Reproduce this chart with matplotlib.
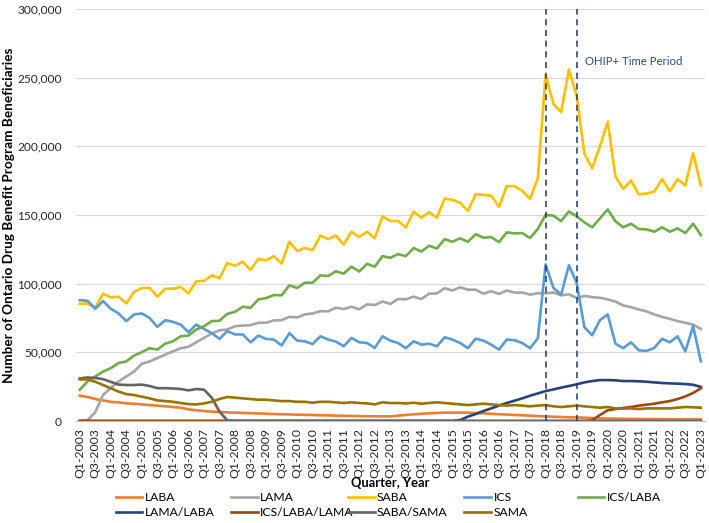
import numpy as np
import matplotlib.pyplot as plt
from matplotlib.ticker import FuncFormatter

plt.rcParams['font.family'] = ['Lato', 'DejaVu Sans']

# Quarters Q1-2003 .. Q1-2023
quarters = [f"Q{q}-{y}" for y in range(2003, 2024) for q in range(1, 5)][:81]

# Beneficiaries, thousands
laba = [18.5, 17.5, 16, 15, 14, 13.6, 12.8, 12.6, 12.1, 11.6, 11.2, 10.7, 10.2, 9.7, 8.5, 7.8,
        7.3, 6.8, 6.6, 6.3, 6.1, 5.9, 5.7, 5.5, 5.3, 5.1, 4.9, 4.8, 4.6, 4.5, 4.4, 4.2,
        4.1, 3.9, 3.8, 3.7, 3.6, 3.5, 3.4, 3.4, 3.4, 3.9, 4.4, 4.9, 5.3, 5.6, 5.8, 6.1,
        6.1, 6.1, 6.1, 5.8, 5.6, 5.3, 4.9, 4.7, 4.4, 4.2, 3.9, 3.6, 3.4, 3.1, 2.9, 2.7,
        2.6, 2.4, 2.2, 1.9, 1.8, 1.7, 1.6, 1.5, 1.5, 1.4, 1.4, 1.3, 1.3, 1.2, 1.2, 1.2, 1.2]
lama = [0, 0.5, 6.5, 19, 24, 28.8, 32.4, 36, 41.7, 43.4, 45.8, 48.3, 50.7, 53, 54, 57.3,
        60.5, 63.7, 66, 66.6, 69, 69.5, 69.8, 71.5, 71.5, 73.2, 73.4, 75.8, 75.4, 77.6, 78.3, 80,
        79.8, 82.5, 81.5, 83.2, 81.3, 84.9, 84.4, 87, 85.2, 88.8, 88.6, 90.5, 88.8, 92.7, 92.9, 96.6,
        95, 97.3, 95.6, 95.6, 92.7, 94.5, 92.5, 95, 93.5, 93.5, 92, 93, 93, 93.5, 91.5, 92.2,
        89.7, 91, 90.2, 89.7, 88.5, 87, 84.1, 82.9, 81.2, 79.8, 77.6, 75.8, 74.4, 72.7, 71.5, 70.2, 67]
saba = [85.4, 85.5, 82.5, 92.7, 90, 90.5, 85.6, 94, 96.8, 97, 90.5, 96.3, 96.3, 97.6, 93, 101.7,
        102, 106, 104, 115, 113, 116, 110, 118, 117, 120, 114.6, 130.5, 123.7, 126, 124.4, 135,
        132.4, 135, 128.5, 137.8, 134, 137.8, 133, 149, 145.6, 145.6, 141, 152.4, 148, 152, 148, 162,
        161, 158.8, 153, 165, 164.6, 164, 156, 171, 171, 167.6, 161.7, 176.8, 252, 231, 225, 256,
        237, 194.6, 184, 200, 217.8, 178, 169, 175, 165, 165.6, 167, 176, 167.3, 176, 171.5, 195, 171.5]
ics = [88, 87.5, 81.7, 87.3, 81.7, 78.3, 72.7, 77.6, 78.3, 75, 68.5, 73.4, 72.2, 70.2, 64.6, 70.2,
       67, 64, 59.8, 65.4, 63, 63, 57.3, 62.2, 59.8, 59.3, 55, 64, 58.5, 58, 56, 61.7,
       59.3, 57.8, 54.4, 60.5, 57.3, 56.8, 53.2, 61.7, 58.5, 56.8, 53, 58, 55.6, 56.3, 54.4, 61,
       59.3, 56.8, 53, 60, 58.5, 55.6, 52, 59.3, 58.8, 56.8, 53, 60.2, 114, 97, 92, 113.4,
       100.7, 68.3, 62.4, 73.4, 77.6, 56.3, 53, 57.3, 51.5, 51, 53.2, 59.8, 57.3, 61.7, 50.7, 69, 43.4]
ics_laba = [22.7, 28.8, 32.4, 36, 38.5, 42.2, 43.4, 47.6, 50.2, 53, 52, 56.3, 58, 61.7, 62.2, 66.6,
            69, 72.7, 73, 78, 79.5, 83.2, 82.4, 88.5, 89.5, 91.7, 91.5, 98.8, 96.8, 100.7, 100.7, 106,
            105.6, 109, 107.3, 112.4, 108.8, 114.4, 112.4, 120, 118.8, 121.5, 120, 125.9, 123.4, 127.6, 125.6, 132.4,
            130.5, 133, 130.5, 136, 133.4, 133.9, 130.2, 137.3, 136.6, 136.8, 133.2, 139.8, 150, 149.5, 145.6, 152.5,
            149, 144.6, 141, 147.5, 154, 145.4, 141, 143.6, 139.8, 139.5, 137.8, 141, 137.8, 140.2, 136.8, 143.6, 135.4]
lama_laba = [0] * 49 + [0.7, 3.2, 5.1, 7.3, 9.2, 11.2, 13.1, 14.8, 16.5, 18.4, 20.1, 21.8, 23, 24.3, 25.5,
                        26.7, 28.1, 29.1, 29.8, 29.8, 29.6, 29.1, 29.1, 28.9, 28.6, 28.1, 27.7, 27.4, 27.2, 26.9, 26.4, 24.8]
ics_laba_lama = [0] * 66 + [0.5, 4.4, 7.8, 8.7, 9.5, 10.2, 11.2, 11.9, 12.6, 13.6, 14.5, 16, 17.9, 20.4, 23.8]
saba_sama = [31, 31.7, 31.3, 30.5, 28.5, 26.5, 26.2, 26.2, 26.5, 25.5, 23.9, 23.9, 23.7, 23.3, 22.3, 23.3,
             22.8, 17, 6.8, 0.5] + [0] * 61
sama = [30.3, 30.3, 28.6, 26.2, 23.8, 21.4, 19.6, 18.9, 17.7, 16.5, 15, 14.5, 14, 13.1, 12.3, 12.1,
        12.8, 14, 16, 17.5, 17, 16.5, 16, 15.5, 15.5, 15, 14.5, 14.5, 14, 14, 13.3, 14,
        14, 13.6, 13.1, 13.6, 13.1, 12.8, 12.1, 13.6, 13.1, 13.1, 12.8, 13.3, 12.6, 13.1, 13.6, 13.1,
        12.6, 12.1, 11.6, 12.1, 12.6, 12.1, 11.6, 11.2, 11.6, 11.2, 10.7, 11.2, 11.6, 10.7, 10.2, 10.7,
        11.2, 10.7, 10.2, 9.7, 10.2, 9.2, 9, 9.2, 8.7, 9.2, 9.2, 9.2, 9.2, 9.7, 10.2, 10, 9.7]

series = [
    ("LABA", laba, "#ED7D31"),
    ("LAMA", lama, "#A5A5A5"),
    ("SABA", saba, "#FFC000"),
    ("ICS", ics, "#5B9BD5"),
    ("ICS/LABA", ics_laba, "#70AD47"),
    ("LAMA/LABA", lama_laba, "#264478"),
    ("ICS/LABA/LAMA", ics_laba_lama, "#9E480E"),
    ("SABA/SAMA", saba_sama, "#636363"),
    ("SAMA", sama, "#997300"),
]

ohip_start = "Q1-2018"
ohip_end = "Q1-2019"

fig = plt.figure(figsize=(7.09, 5.23), dpi=100)
ax = fig.add_axes([0.107, 0.195, 0.887, 0.788])

x = np.arange(len(quarters))
handles = []
for name, vals, col in series:
    h, = ax.plot(x, np.array(vals) * 1000, color=col, lw=1.9, label=name,
                 solid_joinstyle='round')
    handles.append(h)

for q in (ohip_start, ohip_end):
    ax.axvline(quarters.index(q), color="#1F3864", lw=1.1, ls=(0, (4, 3)), zorder=5)

ax.text(quarters.index(ohip_end) + 1.1, 262000, "OHIP+ Time Period",
        color="#2F4A7A", fontsize=8.2, va="center", ha="left")

ax.set_xlim(-0.5, len(quarters) - 0.5)
ax.set_ylim(0, 300000)
ax.set_yticks(np.arange(0, 300001, 50000))
ax.yaxis.set_major_formatter(FuncFormatter(lambda v, p: f"{int(v):,}"))
ax.set_xticks(x[::2])
ax.set_xticklabels(quarters[::2], rotation=90)
ax.tick_params(length=0, colors="#262626")
ax.tick_params(axis='y', pad=10, labelsize=8.6)
ax.tick_params(axis='x', pad=5, labelsize=8.8)
ax.grid(axis='y', color="#D9D9D9", lw=0.8)
ax.set_axisbelow(True)
for s in ("top", "right", "left"):
    ax.spines[s].set_visible(False)
ax.spines["bottom"].set_color("#BFBFBF")

ax.set_xlabel("Quarter, Year", fontweight="bold", fontsize=9.3)
ax.xaxis.set_label_coords(0.5, -0.136)
ax.xaxis.label.set_va("top")
ax.set_ylabel("Number of Ontario Drug Benefit Program Beneficiaries",
              fontweight="bold", fontsize=9.8)
ax.yaxis.set_label_coords(-0.097, 0.5)

# legend laid out like Excel: 5 even columns, 2 rows
col_x = [0.163, 0.326, 0.491, 0.655, 0.815]
for c in range(5):
    items = [handles[c]] + ([handles[c + 5]] if c + 5 < len(handles) else [])
    fig.legend(items, [h.get_label() for h in items], loc="upper left",
               bbox_to_anchor=(col_x[c], 0.059), frameon=False, fontsize=8.7,
               handlelength=2.2, handletextpad=0.2, labelspacing=0.3,
               borderaxespad=0, borderpad=0)

fig.savefig("out.png", dpi=100)
